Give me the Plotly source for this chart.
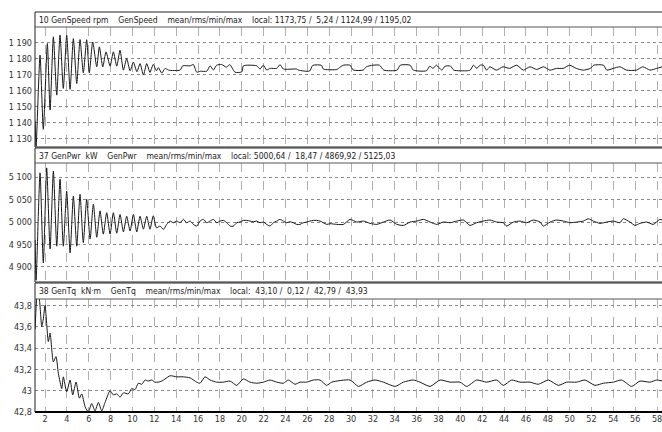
import plotly.graph_objects as go

# ---------------- data ----------------
speed_t = [1.09, 1.18, 1.54, 1.84, 2.21, 2.46, 2.76, 3.07, 3.37, 3.67, 3.98, 4.29, 4.59, 4.9, 5.2, 5.5,
           5.81, 6.05, 6.36, 6.73, 6.97, 7.28, 7.58, 7.95, 8.25, 8.56, 8.86, 9.17, 9.47, 9.78, 10.08,
           10.4, 10.69, 11.0, 11.3, 11.6, 11.9,
           12.2, 12.37, 12.68, 12.98, 13.3, 14.35, 14.6, 15.27, 15.57, 15.88, 16.2, 16.79, 17.1, 17.4,
           17.7, 18.16, 18.6, 18.9, 19.38, 20.0, 20.15, 21.37, 21.67, 21.97, 22.28, 22.6, 23.2, 23.5,
           23.8, 25.0, 25.2, 26.2, 26.5, 27.3, 27.46, 28.7, 29.0, 29.3, 29.9, 30.2, 31.1, 31.4, 32.0,
           32.6, 33.0, 34.2, 34.5, 35.4, 35.7, 36.9, 37.2, 37.5, 37.8, 38.3, 38.6, 39.1, 39.4, 40.6,
           40.9, 41.2, 41.5, 41.8, 42.1, 42.4, 42.7, 43.3, 43.9, 44.5, 45.15, 45.76, 46.37, 46.98,
           47.6, 48.2, 48.8, 49.4, 50.0, 50.6, 51.25, 51.9, 52.2, 53.1, 53.4, 54.0, 54.6, 55.2, 56.1,
           56.7, 57.35, 57.96, 58.45]
speed_v = [1141, 1125.0, 1182.3, 1135.7, 1189.6, 1147.8, 1193.8, 1157.2, 1195.0, 1161.4, 1194.8, 1160.8,
           1192.7, 1164.5, 1192.1, 1171.2, 1192.0, 1171.2, 1190.6, 1175.0, 1187.5, 1175.0, 1184.4, 1175.4,
           1184.4, 1175.4, 1185.4, 1172.9, 1180.2, 1172.5, 1178.0, 1171.9, 1177.0, 1169.8, 1177.0, 1171.5,
           1176.5,
           1172.5, 1174.5, 1171.0, 1174.0, 1172.9, 1172.9, 1175.6, 1175.6, 1176.4, 1171.6, 1172.2, 1172.2,
           1175.6, 1173.0, 1176.0, 1176.4, 1174.8, 1176.4, 1171.6, 1171.8, 1175.6, 1175.6, 1173.6, 1176.0,
           1173.0, 1174.0, 1174.0, 1176.4, 1173.6, 1173.6, 1172.9, 1172.3, 1175.9, 1175.9, 1173.6, 1173.3,
           1174.8, 1176.0, 1176.0, 1173.0, 1172.9, 1175.0, 1176.0, 1176.0, 1172.9, 1172.9, 1176.0, 1176.0,
           1172.9, 1172.5, 1175.4, 1174.0, 1176.0, 1172.9, 1175.4, 1175.4, 1172.9, 1172.5, 1172.9, 1176.0,
           1174.0, 1176.0, 1176.0, 1172.9, 1175.0, 1172.9, 1175.0, 1174.0, 1176.0, 1172.9, 1175.0, 1173.3,
           1175.0, 1172.9, 1174.0, 1174.0, 1176.0, 1174.0, 1172.9, 1174.0, 1176.0, 1176.0, 1172.9, 1174.0,
           1175.0, 1172.9, 1172.9, 1175.0, 1172.9, 1174.0, 1175.0]

pwr_t = [1.09, 1.18, 1.54, 1.84, 2.15, 2.46, 2.76, 3.07, 3.37, 3.67, 3.98, 4.29, 4.59, 4.9, 5.2, 5.5,
         5.81, 6.12, 6.42, 6.73, 7.03, 7.33, 7.64, 7.95, 8.25, 8.56, 8.86, 9.17, 9.47, 9.78, 10.08,
         10.39, 10.69, 11.0, 11.3, 11.6, 11.9, 12.2,
         12.52, 12.83, 13.13, 13.44, 13.74, 14.05, 14.35, 14.66, 14.96, 15.27, 15.57, 15.88, 16.18,
         16.49, 16.79, 17.1, 17.4, 17.71, 18.01, 18.32, 18.62, 18.93, 19.23, 19.54, 19.84, 20.15,
         20.45, 20.76, 21.06, 21.37, 21.67, 21.98, 22.28, 22.58, 22.89, 23.19, 23.5, 23.8, 24.11,
         24.41, 24.72, 25.02, 25.33, 25.63, 25.94, 26.24, 26.55, 26.85, 27.16, 27.46, 27.77, 28.07,
         28.69, 29.3, 29.91, 30.52, 31.13, 31.74, 32.35, 32.96, 33.57, 34.18, 34.79, 35.4, 36.01,
         36.62, 37.23, 37.84, 38.45, 39.06, 39.67, 40.28, 40.88, 41.49, 42.1, 42.71, 43.32, 43.93,
         44.24, 44.85, 45.46, 46.07, 46.68, 47.29, 47.59, 48.2, 48.81, 49.42, 50.03, 50.64, 51.25,
         51.71, 52.17, 52.78, 53.39, 54.0, 54.6, 54.91, 55.52, 55.98, 56.43, 57.04, 57.65, 58.26, 58.5]
pwr_v = [4960, 4870, 5110, 4909, 5121, 4940, 5114, 4946, 5096, 4946, 5069, 4931, 5058, 4946, 5062, 4954,
         5051, 4962, 5040, 4966, 5025, 4973, 5021, 4973, 5021, 4975, 5017, 4978, 5013, 4980, 5017,
         4978, 5013, 4984, 5013, 4984, 5014, 4987,
         4991, 4983.6, 4994.8, 5002.2, 4998.5, 5002.2, 4998.5, 5006, 4998.5, 5002.2, 4994.8, 4991,
         5002.2, 5006, 4998.5, 5002.2, 5006, 4998.5, 5002.2, 5003.7, 4998.5, 4991, 4991, 4998.5, 5000,
         5003.7, 5003.7, 5002.2, 5000.7, 5002.2, 4998.5, 5000, 4994.8, 4991, 4998.5, 5002.2, 5006,
         5002.2, 4998.5, 5000.7, 4998.5, 4994.8, 4994.8, 4998.5, 5000, 5002.2, 5003.7, 5003.7, 5002.2,
         4998.5, 4994.8, 4996.3,
         4994.8, 4994.8, 5006, 5000, 5002.2, 4997, 4994.8, 5000, 5004.5, 4994.8, 4992.5, 5000, 5002.2,
         5006, 5000, 4994.8, 5000, 4998.5, 5002.2, 5004.5, 4992.5, 4998.5, 5002.2, 5004.5, 5000, 4998.5,
         4991, 5000, 5002.2, 4998.5, 5004.5, 5000, 4991, 5000, 5004.5, 5002.2, 4998.5, 5000, 5002.2,
         5007.5, 5002.2, 4997, 5000, 5002.2, 4998.5, 5007.5, 5000, 4992.5, 4997, 5000, 4994.8, 5006, 5004]

tq_t = [1.09, 1.30, 1.48, 1.70, 1.85, 2.0, 2.30, 2.46, 2.76, 3.0, 3.22, 3.53, 3.67, 3.98, 4.29, 4.53,
        4.84, 5.14, 5.36, 5.66, 5.96, 6.27, 6.57, 6.88, 7.19, 7.49, 7.95, 8.25, 8.56, 8.86, 9.17,
        9.62, 9.93, 10.23, 10.54, 10.85, 11.15, 11.45, 11.76, 12.06, 12.37, 12.68, 12.98, 13.44,
        14.05, 14.65, 15.27, 15.88, 16.18, 16.64, 17.1, 17.7, 18.31, 18.93, 19.54, 20.14, 20.76,
        21.37, 21.97, 22.59, 23.2, 23.8, 24.26, 24.87, 25.33, 25.94, 26.55, 27.16, 27.77, 28.23,
        29.91, 30.67, 31.43, 32.2, 32.96, 34.03, 34.79, 35.7, 36.31, 37.23, 38.14, 39.06, 39.97,
        40.58, 41.5, 42.41, 43.32, 43.93, 44.7, 45.46, 46.37, 47.13, 48.05, 48.96, 49.73, 50.64,
        51.4, 52.32, 53.08, 54.0, 54.76, 55.67, 56.43, 57.35, 57.96, 58.5]
tq_v = [43.58, 43.93, 43.86, 43.60, 43.68, 43.80, 43.46, 43.54, 43.27, 43.32, 43.16, 43.02, 43.13,
        42.99, 43.10, 42.96, 43.08, 42.93, 42.97, 42.85, 42.80, 42.88, 42.81, 42.89, 42.81, 42.89,
        43.00, 42.96, 42.97, 42.94, 42.98, 42.97, 43.02, 43.01, 43.07, 43.06, 43.10, 43.09, 43.10,
        43.08, 43.08, 43.09, 43.11, 43.14,
        43.13, 43.13, 43.12, 43.08, 43.07, 43.13, 43.10, 43.08, 43.08, 43.09, 43.05, 43.11, 43.08,
        43.07, 43.08, 43.10, 43.08, 43.07, 43.10, 43.06, 43.08, 43.08, 43.10, 43.10, 43.05, 43.08,
        43.10, 43.04, 43.08, 43.10, 43.08, 43.04, 43.08, 43.10, 43.08, 43.04, 43.10, 43.08, 43.08,
        43.04, 43.10, 43.08, 43.10, 43.05, 43.10, 43.08, 43.08, 43.06, 43.10, 43.05, 43.08, 43.08,
        43.10, 43.05, 43.07, 43.08, 43.10, 43.04, 43.09, 43.08, 43.10, 43.09]

x_tick_vals = list(range(2, 59, 2))
speed_ticks = [1130, 1140, 1150, 1160, 1170, 1180, 1190]
speed_ticktext = ["1 130", "1 140", "1 150", "1 160", "1 170", "1 180", "1 190"]
pwr_ticks = [4900, 4950, 5000, 5050, 5100]
pwr_ticktext = ["4 900", "4 950", "5 000", "5 050", "5 100"]
tq_ticks = [42.8, 43.0, 43.2, 43.4, 43.6, 43.8]
tq_ticktext = ["42,8", "43", "43,2", "43,4", "43,6", "43,8"]

headers = [
    ["10 GenSpeed rpm", "GenSpeed", "mean/rms/min/max", "local: 1173,75 /  5,24 / 1124,99 / 1195,02"],
    ["37 GenPwr  kW", "GenPwr", "mean/rms/min/max", "local: 5000,64 /  18,47 / 4869,92 / 5125,03"],
    ["38 GenTq  kN·m", "GenTq", "mean/rms/min/max", "local:  43,10 /  0,12 /  42,79 /  43,93"],
]

# ---------------- layout geometry ----------------
W, H = 662, 432
ML, MR, MT, MB = 35, 0, 12, 20
PH = H - MT - MB


def py2paper(py):
    return (H - MB - py) / PH


def px2paper(px):
    return (px - ML) / (W - ML - MR)


panels = [  # header top, plot top, plot bottom (pixels)
    (12, 27, 147),
    (148, 163, 282),
    (283, 299, 412),
]
yranges = [[1124.6, 1200.0], [4866, 5132], [42.8, 43.86]]
XR = [1.08, 58.45]
FONT = "DejaVu Sans Condensed, Liberation Sans Narrow, Arial Narrow, sans-serif"

fig = go.Figure()
series = [(speed_t, speed_v), (pwr_t, pwr_v), (tq_t, tq_v)]
for i, (t, v) in enumerate(series):
    fig.add_trace(go.Scatter(x=t, y=v, mode="lines",
                             line=dict(color="#1a1a1a", width=1, shape="spline", smoothing=0.6),
                             xaxis="x" if i == 0 else f"x{i+1}",
                             yaxis="y" if i == 0 else f"y{i+1}",
                             showlegend=False, hoverinfo="skip", cliponaxis=True))

ticks = [(speed_ticks, speed_ticktext), (pwr_ticks, pwr_ticktext), (tq_ticks, tq_ticktext)]
layout = dict(width=W, height=H, margin=dict(l=ML, r=MR, t=MT, b=MB, autoexpand=False),
              paper_bgcolor="white", plot_bgcolor="white", showlegend=False,
              font=dict(family=FONT, size=9, color="#333333"))
shapes = []
annotations = []
for i, (ht, pt, pb) in enumerate(panels):
    xn = "xaxis" if i == 0 else f"xaxis{i+1}"
    yn = "yaxis" if i == 0 else f"yaxis{i+1}"
    yref = "y" if i == 0 else f"y{i+1}"
    xref = "x" if i == 0 else f"x{i+1}"
    layout[xn] = dict(domain=[0, 1], range=XR, anchor=yref, tickmode="array",
                      tickvals=x_tick_vals, ticktext=[str(v) for v in x_tick_vals],
                      showticklabels=(i == 2), showgrid=True, gridcolor="#b0b0b0",
                      griddash="dash", gridwidth=1, zeroline=False, showline=False,
                      automargin=False, ticks="", ticklabeloverflow="allow",
                      tickfont=dict(family=FONT, size=9, color="#333333"))
    layout[yn] = dict(domain=[py2paper(pb), py2paper(pt)], range=yranges[i], anchor=xref,
                      tickmode="array", tickvals=ticks[i][0], ticktext=ticks[i][1],
                      showgrid=True, gridcolor="#8a8a8a", griddash="dot", gridwidth=1,
                      zeroline=False, showline=False, ticks="", ticklabelstandoff=2,
                      automargin=False,
                      tickfont=dict(family=FONT, size=9, color="#333333"))
    # frame
    shapes.append(dict(type="rect", xref="paper", yref="paper", x0=0, x1=1.002,
                       y0=py2paper(pb), y1=py2paper(ht), line=dict(color="#222222", width=1)))
    shapes.append(dict(type="line", xref="paper", yref="paper", x0=0, x1=1.002,
                       y0=py2paper(pt), y1=py2paper(pt), line=dict(color="#555555", width=1)))
    txt = "\u00a0\u00a0\u00a0\u00a0".join(headers[i]).replace(" ", "\u00a0")
    annotations.append(dict(text=txt, xref="paper", yref="paper",
                            x=px2paper(37), y=py2paper((ht + pt) / 2), xanchor="left",
                            yanchor="middle", showarrow=False,
                            font=dict(family=FONT, size=8.5, color="#222222")))
# thicker bottom line
shapes.append(dict(type="line", xref="paper", yref="paper", x0=0, x1=1.002,
                   y0=py2paper(412), y1=py2paper(412), line=dict(color="#000000", width=2)))
layout["shapes"] = shapes
layout["annotations"] = annotations
fig.update_layout(**layout)
fig.write_html("out.html", config={"displayModeBar": False},
               post_script="document.body.style.margin='0';document.body.style.overflow='hidden';")
